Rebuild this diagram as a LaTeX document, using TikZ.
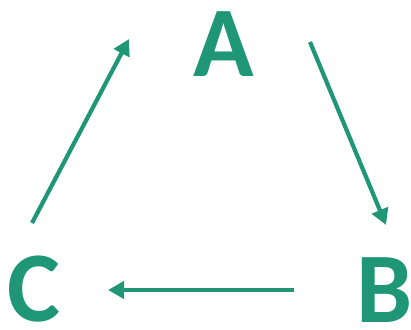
\documentclass[tikz,border=0pt]{standalone}
\usepackage{fontspec}
\setmainfont{Carlito}
\usepackage{xcolor}
\usetikzlibrary{arrows.meta,calc,positioning}
\definecolor{CycleTeal}{HTML}{1F9777}
\tikzset{
  cyletter/.style={text=CycleTeal, inner sep=0pt, font=\fontsize{100}{100}\selectfont\bfseries},
  cyarrow/.style={-{Triangle[length=16pt,width=17pt]}, line width=4.2pt, draw=CycleTeal}
}

\begin{document}
\begin{tikzpicture}[x=1pt,y=-1pt]
  \useasboundingbox (0,0) rectangle (411,329);
  \node[cyletter] (A) at (224,44) {A};
  \node[cyletter] (B) at (385,290) {B};
  \node[cyletter] (C) at (34,289) {C};
  \coordinate (ab-from) at (310,42);
  \coordinate (ab-to) at (386,225);
  \coordinate (bc-from) at (294,290);
  \coordinate (bc-to) at (108,290);
  \coordinate (ca-from) at (32,223);
  \coordinate (ca-to) at (129,39);
  \draw[cyarrow] (ab-from) -- (ab-to);
  \draw[cyarrow] (bc-from) -- (bc-to);
  \draw[cyarrow] (ca-from) -- (ca-to);
\end{tikzpicture}
\end{document}
